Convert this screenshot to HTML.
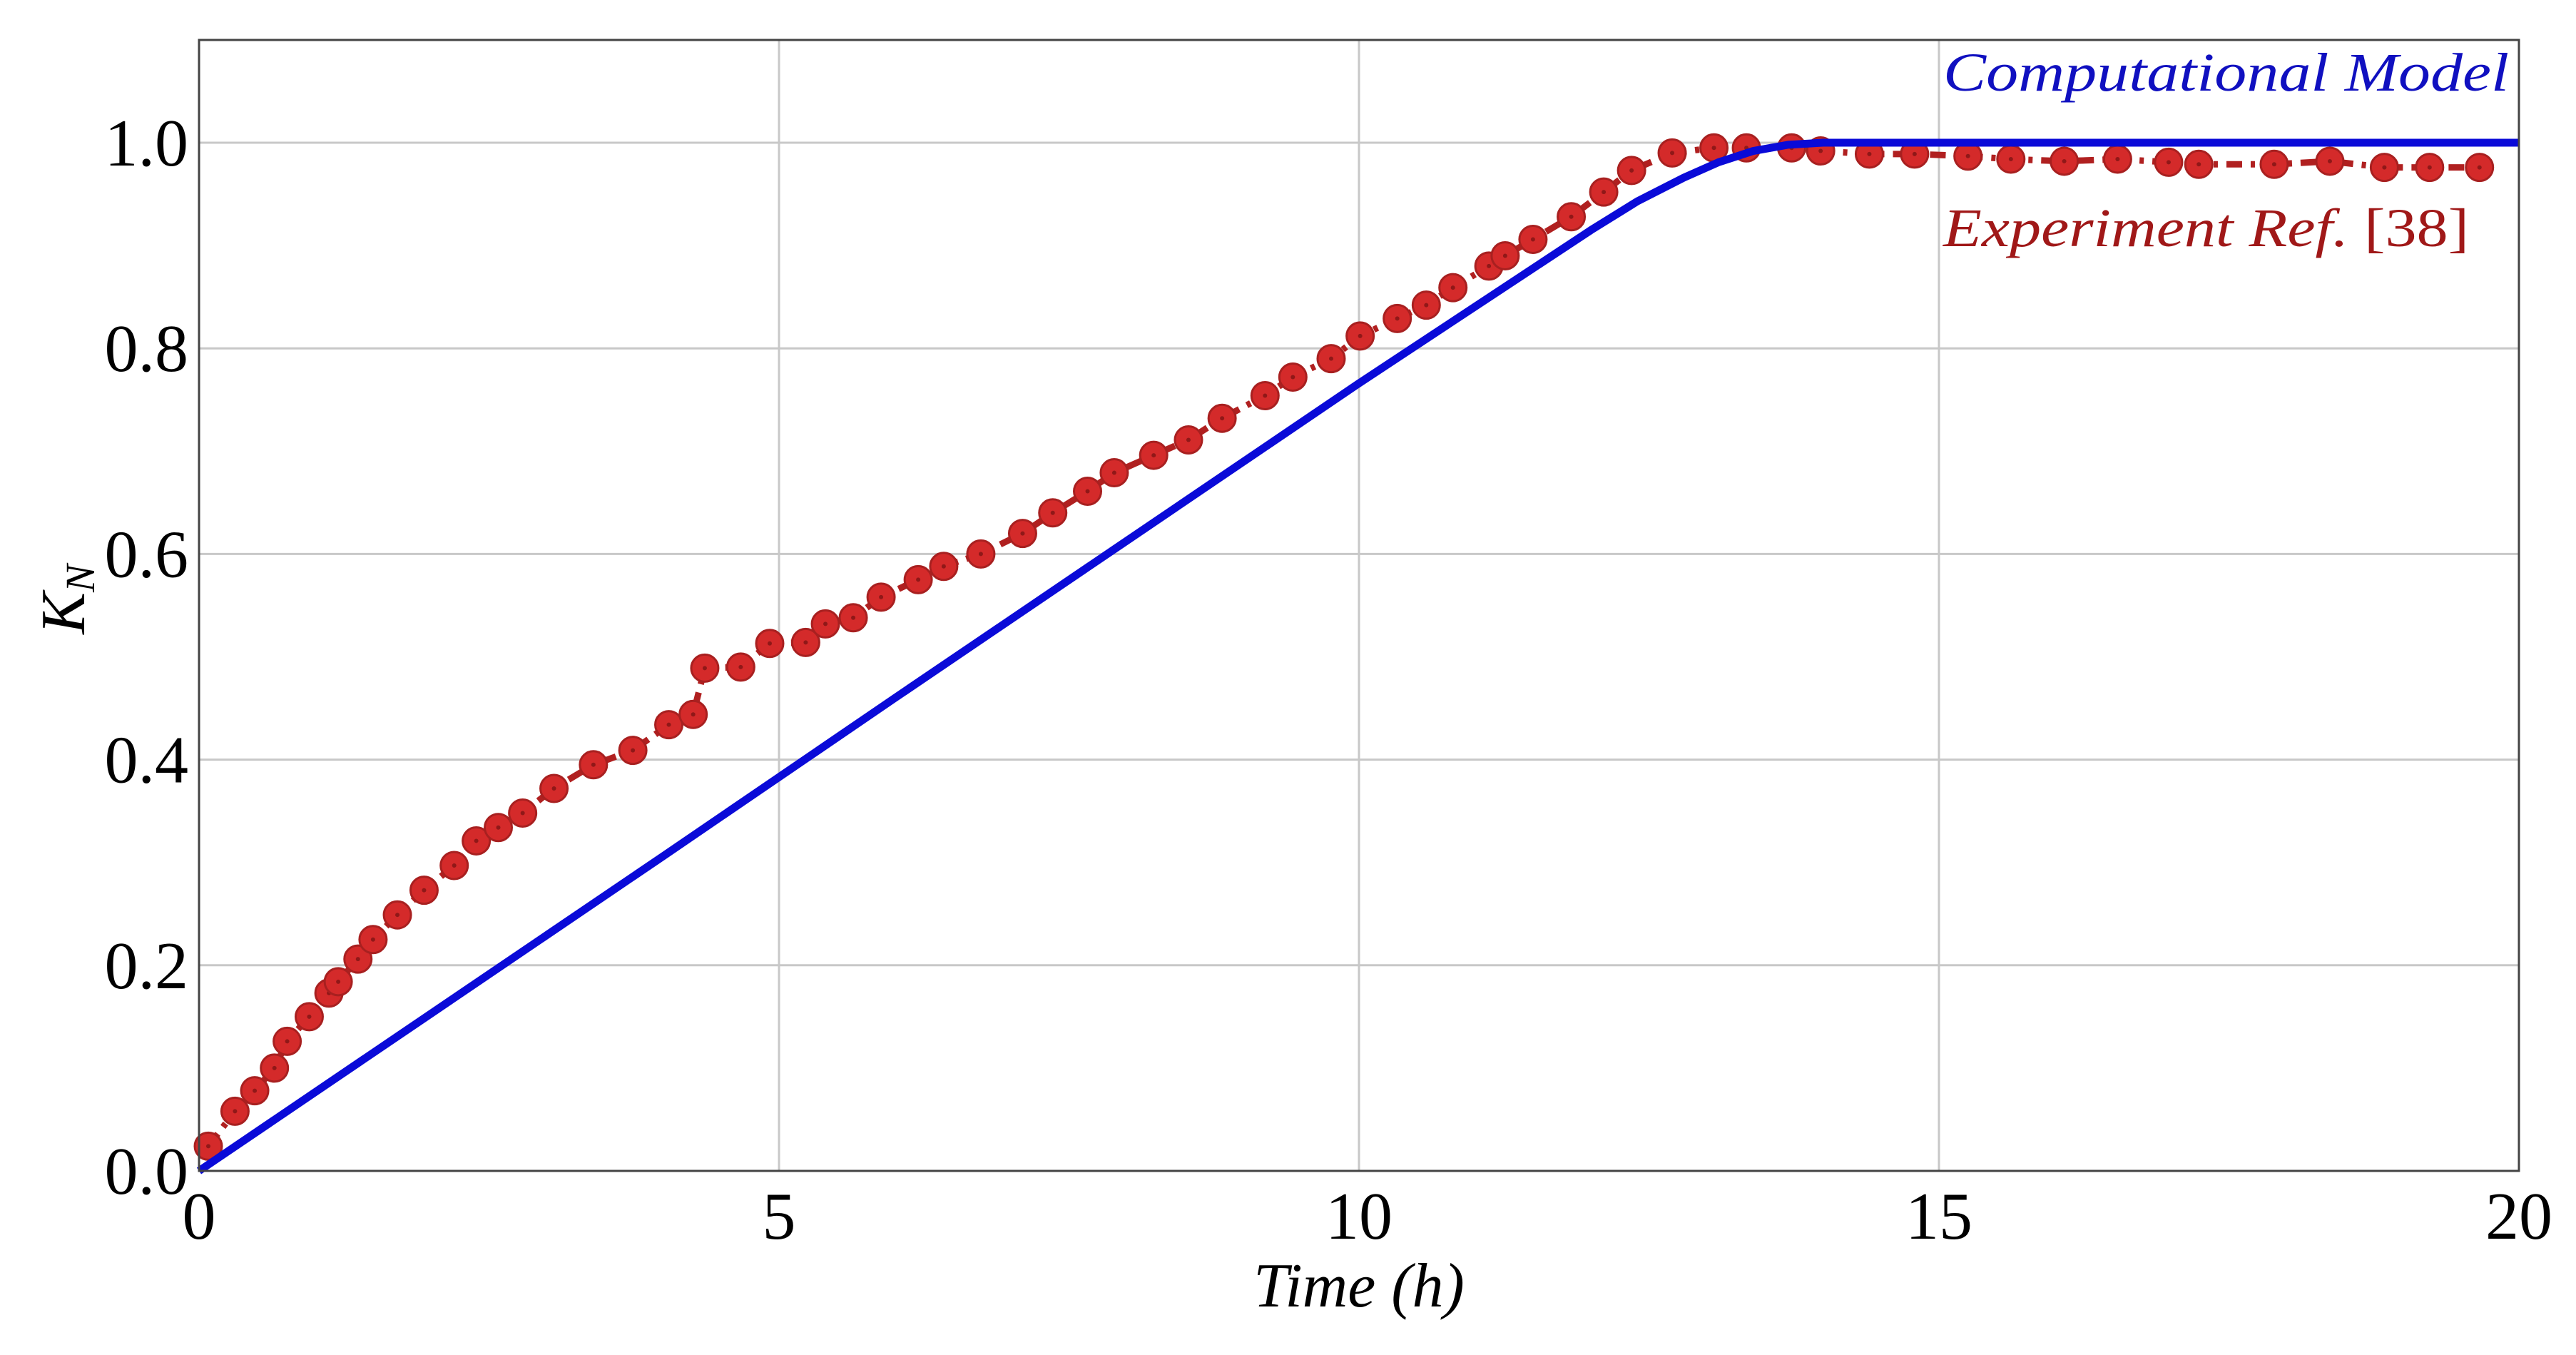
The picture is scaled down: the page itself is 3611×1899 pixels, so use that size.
<!DOCTYPE html>
<html><head><meta charset="utf-8"><style>
html,body{margin:0;padding:0;background:#fff;}
svg{display:block;}
text{font-family:"Liberation Serif",serif;}
</style></head><body>
<svg id="chart" width="3611" height="1899" viewBox="0 0 3611 1899" xmlns="http://www.w3.org/2000/svg">
<rect x="0" y="0" width="3611" height="1899" fill="#fff"/>
<g id="grid"></g>
<g id="series"></g>
<rect x="279" y="56" width="3252" height="1585" fill="none" stroke="#444" stroke-width="3"/>
<g id="ticks"></g>
<text x="1905" y="1831" font-size="88" font-style="italic" text-anchor="middle">Time (h)</text>
<text transform="translate(118,840) rotate(-90)" font-size="88" font-style="italic" text-anchor="middle">K<tspan font-size="58" dy="14">N</tspan></text>
<text x="2724" y="127" font-size="76" font-style="italic" fill="#1010c0" textLength="793" lengthAdjust="spacingAndGlyphs">Computational Model</text>
<text x="2724" y="345" font-size="76" fill="#a01818" textLength="737" lengthAdjust="spacingAndGlyphs"><tspan font-style="italic">Experiment Ref.</tspan> [38]</text>
</svg>
<script>
const xTicks=[0,5,10,15,20];
const yTicks=[0,0.2,0.4,0.6,0.8,1.0];
const yTickLabels=["0.0","0.2","0.4","0.6","0.8","1.0"];
const modelT=[0,2,4,6,8,10,12,12.4,12.8,13.1,13.4,13.7,14,20];
const modelK=[0,0.153,0.306,0.46,0.613,0.766,0.915,0.943,0.966,0.981,0.992,0.998,1,1];
const expT=[0.08,0.31,0.48,0.65,0.76,0.95,1.12,1.2,1.37,1.5,1.71,1.94,2.2,2.39,2.58,2.79,3.06,3.4,3.74,4.05,4.26,4.36,4.67,4.92,5.23,5.4,5.64,5.88,6.2,6.42,6.74,7.1,7.36,7.66,7.89,8.23,8.53,8.82,9.19,9.43,9.76,10.01,10.33,10.58,10.81,11.12,11.26,11.5,11.83,12.11,12.35,12.7,13.06,13.34,13.73,13.98,14.4,14.79,15.25,15.62,16.08,16.54,16.98,17.24,17.89,18.37,18.84,19.23,19.66];
const expK=[0.024,0.058,0.078,0.1,0.126,0.15,0.173,0.184,0.206,0.225,0.249,0.273,0.297,0.321,0.334,0.348,0.372,0.395,0.409,0.434,0.444,0.489,0.49,0.513,0.514,0.532,0.538,0.558,0.575,0.588,0.6,0.62,0.64,0.661,0.679,0.696,0.711,0.732,0.754,0.772,0.79,0.812,0.829,0.842,0.859,0.88,0.89,0.906,0.928,0.952,0.973,0.99,0.995,0.995,0.995,0.992,0.989,0.989,0.987,0.984,0.982,0.984,0.981,0.979,0.979,0.982,0.976,0.976,0.976];
const NS="http://www.w3.org/2000/svg";
const X0=279,X1=3531,Y0=1641,Y1=200;
function sx(t){return X0+(t/20)*(X1-X0);}
function sy(k){return Y0-k*(Y0-Y1);}
function mk(tag,attrs,parent){const e=document.createElementNS(NS,tag);for(const a in attrs)e.setAttribute(a,attrs[a]);parent.appendChild(e);return e;}
const grid=document.getElementById('grid'),ticks=document.getElementById('ticks'),series=document.getElementById('series');
xTicks.forEach(function(t){
  const g=mk('line',{x1:sx(t),x2:sx(t),y1:56,y2:Y0,stroke:'#c8c8c8','stroke-width':3},grid);
  
  
  const l=mk('text',{x:sx(t),y:1736,'font-size':94,'text-anchor':'middle'},ticks);
  l.textContent=String(t);
  
  
});
yTicks.forEach(function(k,i){
  const g=mk('line',{x1:X0,x2:X1,y1:sy(k),y2:sy(k),stroke:'#c8c8c8','stroke-width':3},grid);
  
  
  const l=mk('text',{x:264,y:sy(k)+32,'font-size':94,'text-anchor':'end'},ticks);
  l.textContent=yTickLabels[i];
  
  
});
const ep=mk('polyline',{points:expT.map(function(t,i){return sx(t)+','+sy(expK[i]);}).join(' '),fill:'none',stroke:'#b02020','stroke-width':9,'stroke-dasharray':'22 12 6 12'},series);


expT.forEach(function(t,i){
  const c=mk('circle',{cx:sx(t),cy:sy(expK[i]),r:19,fill:'#d42a2a',stroke:'#a82020','stroke-width':3},series);
  
  
  const d=mk('circle',{cx:sx(t),cy:sy(expK[i]),r:3,fill:'#901818'},series);
  
  
});
const mp=mk('polyline',{points:modelT.map(function(t,i){return sx(t)+','+sy(modelK[i]);}).join(' '),fill:'none',stroke:'#0a0ad8','stroke-width':11,'stroke-linejoin':'round'},series);


</script>
</body></html>
